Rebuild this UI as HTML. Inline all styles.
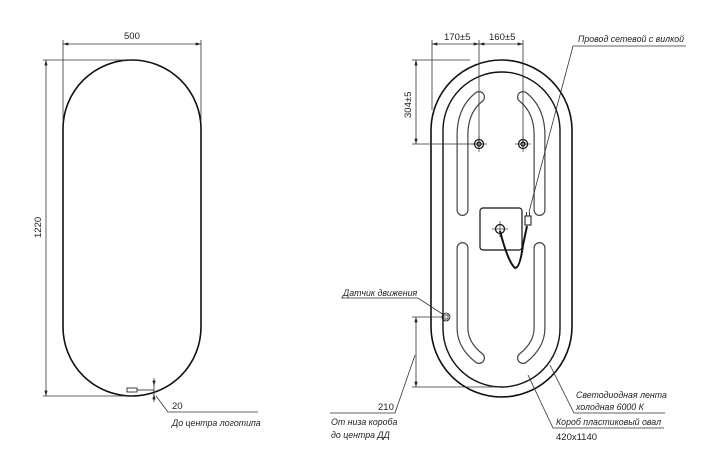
<!DOCTYPE html>
<html><head><meta charset="utf-8"><style>
html,body{margin:0;padding:0;background:#fff;}
svg{display:block;}
text{font-family:"Liberation Sans",sans-serif;font-size:9.5px;fill:#222;}
text.l{font-size:8.8px;font-style:italic;}
</style></head><body>
<svg width="720" height="475" viewBox="0 0 720 475" xmlns="http://www.w3.org/2000/svg">
<defs>
<marker id="a" viewBox="0 0 10 6" refX="10" refY="3" markerWidth="7" markerHeight="4" orient="auto-start-reverse"><path d="M0,0L10,3L0,6z" fill="#222"/></marker>
</defs>
<g fill="none" stroke="#111">
<rect x="63" y="60" width="138" height="336" rx="69" ry="69" stroke-width="1.6"/>
<rect x="127" y="388" width="10" height="4" stroke-width="0.8"/>
<line x1="137" y1="390" x2="154" y2="390" stroke-width="0.8"/>
</g>
<g stroke="#333" stroke-width="0.8" fill="none">
<line x1="63" y1="40" x2="63" y2="120"/><line x1="201" y1="40" x2="201" y2="120"/>
<line x1="63" y1="44" x2="201" y2="44" marker-start="url(#a)" marker-end="url(#a)"/>
<line x1="43" y1="60" x2="132" y2="60"/><line x1="43" y1="396" x2="132" y2="396"/>
<line x1="46" y1="60" x2="46" y2="396" marker-start="url(#a)" marker-end="url(#a)"/>
<line x1="154" y1="378" x2="154" y2="402"/>
<line x1="154" y1="380" x2="154" y2="386" marker-end="url(#a)"/>
<line x1="154" y1="400" x2="154" y2="394" marker-end="url(#a)"/>
<polyline points="156,396 168,412 258,412"/>
</g>
<text x="124" y="39">500</text>
<text x="0" y="0" transform="translate(41,238) rotate(-90)">1220</text>
<text x="172" y="409">20</text>
<text x="172" y="426" class="l">До центра логотипа</text>

<g fill="none" stroke="#111">
<rect x="431" y="60" width="141" height="337" rx="70.5" ry="70.5" stroke-width="1.6"/>
<rect x="443" y="72" width="117" height="315" rx="58.5" ry="58.5" stroke-width="1.4"/>
</g>
<g fill="none" stroke-linecap="round" stroke-linejoin="round">
<g stroke="#444" stroke-width="12">
<path d="M479,97 Q462.5,110 462.5,135 L462.5,210"/>
<path d="M462.5,248 L462.5,328 Q462.5,345 479,358"/>
<path d="M523,97 Q539.5,110 539.5,135 L539.5,210"/>
<path d="M539.5,248 L539.5,328 Q539.5,345 523,358"/>
</g>
<g stroke="#fff" stroke-width="9.6">
<path d="M479,97 Q462.5,110 462.5,135 L462.5,210"/>
<path d="M462.5,248 L462.5,328 Q462.5,345 479,358"/>
<path d="M523,97 Q539.5,110 539.5,135 L539.5,210"/>
<path d="M539.5,248 L539.5,328 Q539.5,345 523,358"/>
</g>
</g>
<g fill="none" stroke="#111">
<circle cx="479" cy="144" r="4.5" stroke-width="1.2"/><circle cx="479" cy="144" r="2" stroke-width="1.2"/>
<circle cx="523" cy="144" r="4.5" stroke-width="1.2"/><circle cx="523" cy="144" r="2" stroke-width="1.2"/>
<line x1="479" y1="136" x2="479" y2="152" stroke-width="0.6"/><line x1="471" y1="144" x2="487" y2="144" stroke-width="0.6"/>
<line x1="523" y1="136" x2="523" y2="152" stroke-width="0.6"/><line x1="515" y1="144" x2="531" y2="144" stroke-width="0.6"/>
<rect x="480" y="208" width="42" height="42" rx="3" stroke-width="1.2"/>
<circle cx="500" cy="229" r="4.5" stroke-width="1.2"/>
<line x1="492" y1="229" x2="508" y2="229" stroke-width="0.6"/><line x1="500" y1="221" x2="500" y2="237" stroke-width="0.6"/>
<path d="M500,231 Q508,262 515,268 Q520,268 523,245 L527,226" stroke-width="2"/>
<rect x="525" y="216" width="6" height="9" stroke-width="1"/>
<line x1="526.5" y1="216" x2="526.5" y2="212" stroke-width="0.8"/><line x1="529.5" y1="216" x2="529.5" y2="212" stroke-width="0.8"/>
<circle cx="446" cy="317" r="4" stroke-width="0.8"/>
<rect x="443" y="315" width="5" height="4" stroke-width="0.8"/>
</g>
<g stroke="#333" stroke-width="0.8" fill="none">
<line x1="479" y1="144" x2="479" y2="40"/><line x1="523" y1="144" x2="523" y2="40"/>
<line x1="432" y1="40" x2="432" y2="110"/>
<line x1="432" y1="44" x2="479" y2="44" marker-start="url(#a)" marker-end="url(#a)"/>
<line x1="479" y1="44" x2="523" y2="44" marker-start="url(#a)" marker-end="url(#a)"/>
<line x1="412" y1="60" x2="470" y2="60"/><line x1="412" y1="144" x2="479" y2="144"/>
<line x1="416" y1="60" x2="416" y2="144" marker-start="url(#a)" marker-end="url(#a)"/>
<polyline points="529,212 573,46 686,46"/>
<polyline points="341,298 418,298 444,315"/>
<line x1="412" y1="317" x2="446" y2="317"/><line x1="412" y1="387" x2="500" y2="387"/>
<line x1="416" y1="317" x2="416" y2="387" marker-start="url(#a)" marker-end="url(#a)"/>
<polyline points="415,355 395,413 330,413"/>
<polyline points="550,365 574,413 665,413"/>
<polyline points="528,375 553,428 664,428"/>
</g>
<text x="0" y="0" transform="translate(411,118) rotate(-90)">304±5</text>
<text x="444" y="40">170±5</text>
<text x="489" y="40">160±5</text>
<text x="578" y="42" class="l">Провод сетевой с вилкой</text>
<text x="343" y="296" class="l">Датчик движения</text>
<text x="378" y="410">210</text>
<text x="331" y="425" class="l">От низа короба</text>
<text x="331" y="438" class="l">до центра ДД</text>
<text x="576" y="398" class="l">Светодиодная лента</text>
<text x="576" y="410" class="l">холодная 6000 К</text>
<text x="556" y="425" class="l">Короб пластиковый овал</text>
<text x="556" y="440">420x1140</text>
</svg>
</body></html>
